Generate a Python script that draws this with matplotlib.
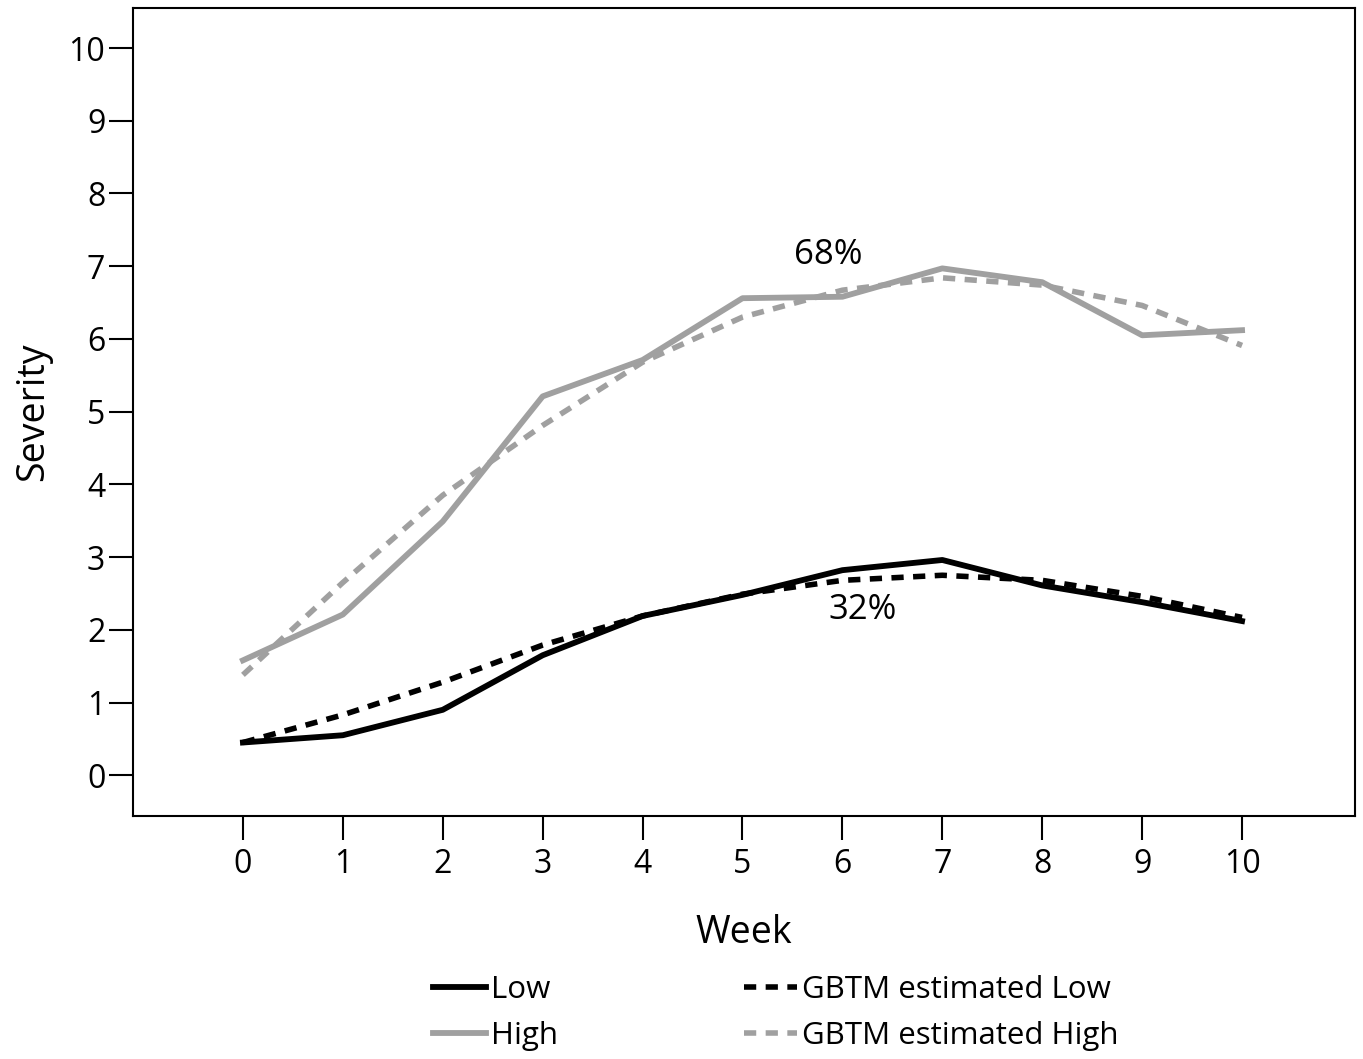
import matplotlib
matplotlib.use("Agg")
import matplotlib.pyplot as plt
import numpy as np

plt.rcParams['font.family'] = ['Open Sans', 'DejaVu Sans']

weeks = np.arange(0, 11)
low = [0.45, 0.55, 0.90, 1.65, 2.19, 2.48, 2.82, 2.96, 2.61, 2.38, 2.12]
low_est = [0.45, 0.83, 1.28, 1.79, 2.19, 2.49, 2.68, 2.75, 2.68, 2.46, 2.17]
high = [1.58, 2.21, 3.49, 5.21, 5.71, 6.56, 6.58, 6.97, 6.78, 6.05, 6.12]
high_est = [1.38, 2.65, 3.85, 4.81, 5.68, 6.30, 6.67, 6.84, 6.74, 6.46, 5.91]

gray = '#a0a0a0'

fig = plt.figure(figsize=(13.63, 10.59), dpi=100)
ax = fig.add_axes([0.0976, 0.2295, 0.8965, 0.7629])

l1, = ax.plot(weeks, low, color='black', lw=4.2, label='Low')
l2, = ax.plot(weeks, high, color=gray, lw=4.2, label='High')
l3, = ax.plot(weeks, low_est, color='black', lw=4.0, dashes=(2.2, 1.7), label='GBTM estimated Low')
l4, = ax.plot(weeks, high_est, color=gray, lw=4.0, dashes=(2.2, 1.7), label='GBTM estimated High')

# group shares
ax.text(5.86, 7.15, '68%', fontsize=25, ha='center', va='center')
ax.text(6.2, 2.27, '32%', fontsize=25, ha='center', va='center')

ax.set_xlim(-1.1, 11.13)
ax.set_ylim(-0.56, 10.55)
ax.set_xticks(weeks)
ax.set_yticks(range(0, 11))
ax.tick_params(axis='both', length=17, width=1.5, labelsize=23, pad=3)
ax.tick_params(axis='x', pad=6)
for s in ax.spines.values():
    s.set_linewidth(1.5)

ax.set_xlabel('Week', fontsize=27, labelpad=24)
ax.set_ylabel('Severity', fontsize=27, labelpad=12)

fig.legend(handles=[l1, l2, l3, l4], loc='upper left', bbox_to_anchor=(433 / 1363, 0.079),
           ncol=2, frameon=False, fontsize=22.5, handlelength=1.7, handletextpad=0.15,
           columnspacing=5.95, labelspacing=0.5, borderaxespad=0, borderpad=0)

fig.savefig('out.png', dpi=100)
